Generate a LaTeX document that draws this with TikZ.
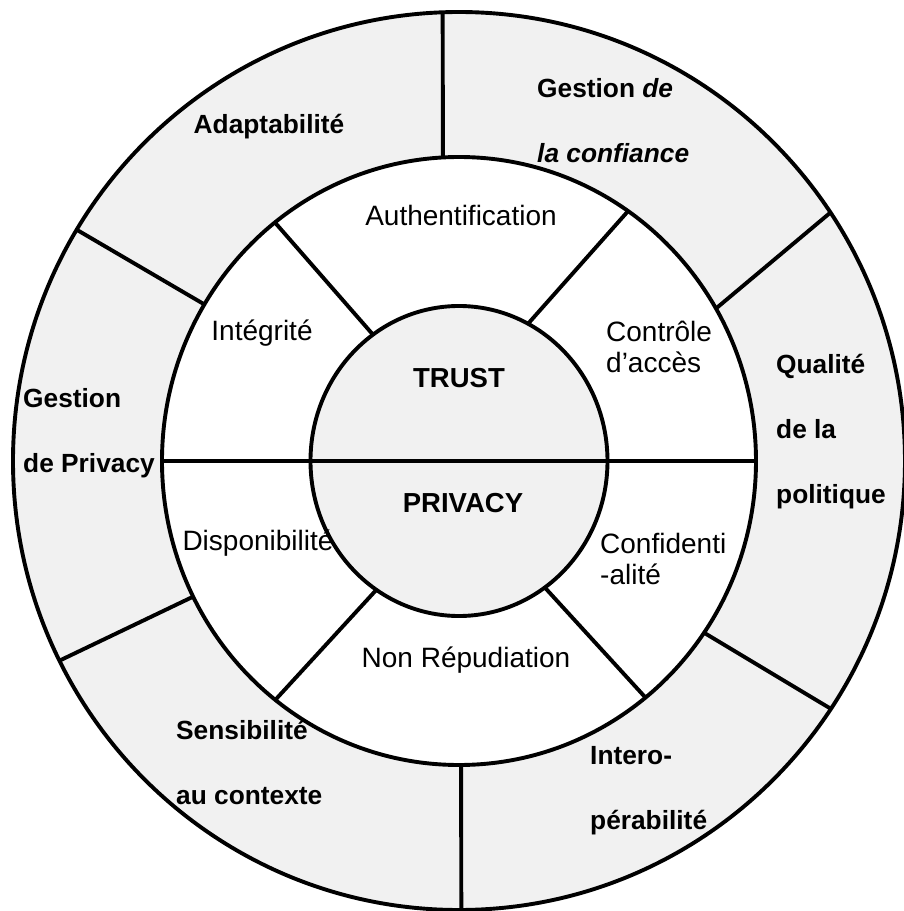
\documentclass[tikz,border=0pt]{standalone}
\usepackage{fontspec}
\setmainfont{Liberation Sans}
\usepackage{tikz}
\usetikzlibrary{positioning}

\definecolor{ringgray}{HTML}{F1F1F1}

\tikzset{
  ringline/.style={draw=black, line width=3.9pt},
  soft/.style={font=\fontsize{28}{31}\selectfont, align=left, inner sep=0pt},
  heavy/.style={font=\bfseries\fontsize{26.3}{65}\selectfont, align=left, inner sep=0pt},
  core/.style={font=\bfseries\fontsize{27.5}{32}\selectfont, inner sep=0pt}
}

\begin{document}
\begin{tikzpicture}[x=1pt, y=1pt]
        \useasboundingbox (-459, -450) rectangle (445, 461);
        \coordinate (O) at (0, 0);

        % rings: outer band, middle band, core
        \fill[ringgray] (O) ellipse [x radius=446, y radius=449];
        \fill[white] (O) ellipse [x radius=297, y radius=304];
        \fill[ringgray] (O) ellipse [x radius=148.5, y radius=155];
        \draw[ringline] (O) ellipse [x radius=446, y radius=449];
        \draw[ringline] (O) ellipse [x radius=297, y radius=304];
        \draw[ringline] (O) ellipse [x radius=148.5, y radius=155];

        % TRUST / PRIVACY split
        \coordinate (W) at (-297, 0);
        \coordinate (E) at (297, 0);
        \draw[ringline] (W) -- (E);

        % spokes of the middle band
        \foreach \a/\b in {125.4/128.3, 62.3/55.3, 236.2/231.8, 305.3/308.9}
            \draw[ringline] ({148.5*cos(\a)}, {155*sin(\a)}) -- ({297*cos(\b)}, {304*sin(\b)});

        % spokes of the outer band
        \foreach \a/\b in {93.1/92.1, 149/149, 30.1/33.6, 206.5/206.4, 325.6/326.5, 270.4/270.3}
            \draw[ringline] ({297*cos(\a)}, {304*sin(\a)}) -- ({446*cos(\b)}, {449*sin(\b)});

        % core
        \node[core] (trust) at (0, 83) {TRUST};
        \node[core] (privacy) at (4, -42) {PRIVACY};

        % middle band
        \node[soft] (auth) at (2, 246) {Authentification};
        \node[soft] (integ) at (-197, 128) {Intégrité};
        \node[soft, anchor=west] (ctrl) at (147, 114) {Contrôle\\d’accès};
        \node[soft] (dispo) at (-201, -82) {Disponibilité};
        \node[soft, anchor=west] (confid) at (141, -98) {Confidenti\\-alité};
        \node[soft] (nonrep) at (7, -199) {Non Répudiation};

        % outer band
        \node[heavy] (adapt) at (-190, 334) {Adaptabilité};
        \node[heavy, anchor=west] (gconf) at (78, 340.5) {Gestion \textit{de}\\\textit{la confiance}};
        \node[heavy, anchor=west] (qual) at (317, 29) {Qualité\\de la\\politique};
        \node[heavy, anchor=west] (gpriv) at (-436, 27.5) {Gestion\\de Privacy};
        \node[heavy, anchor=west] (sensib) at (-283, -301.5) {Sensibilité\\au contexte};
        \node[heavy, anchor=west] (intero) at (131, -330) {Intero-\\pérabilité};
    \end{tikzpicture}
\end{document}
